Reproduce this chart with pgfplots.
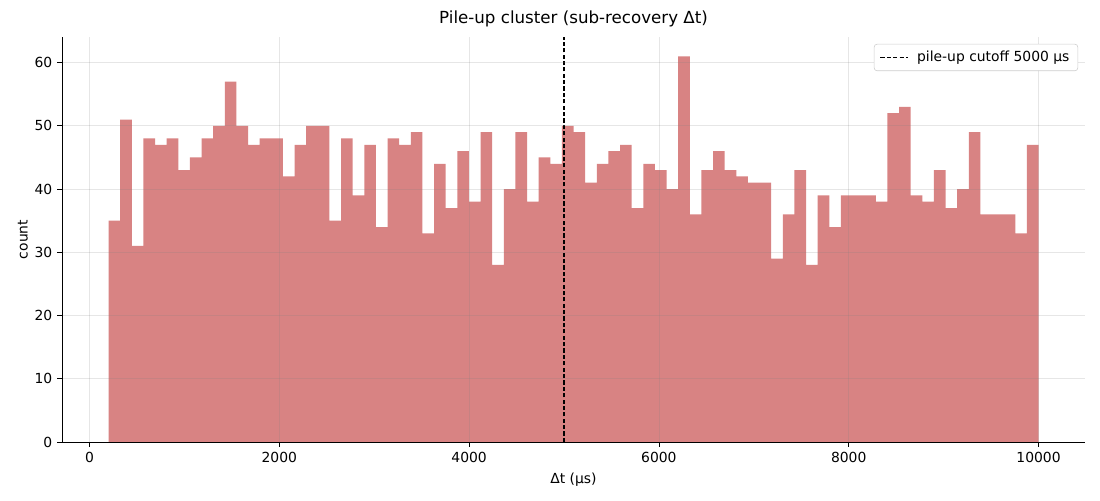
\documentclass[border=0pt]{standalone}
\usepackage{fontspec}
\setmainfont{DejaVu Sans}
\usepackage{pgfplots}
\pgfplotsset{compat=1.18}
\definecolor{barc}{RGB}{216,131,131}
\begin{document}
\begin{tikzpicture}
\path[use as bounding box] (0,0) rectangle (792pt,360pt);
\begin{axis}[
  at={(44.64pt,41.76pt)}, anchor=south west,
  scale only axis, width=736.56pt, height=291.6pt,
  xmin=-290, xmax=10490, ymin=0, ymax=64.05,
  axis x line*=bottom, axis y line*=left,
  axis line style={-, line width=0.6pt},
  tick align=outside, tick style={black, line width=0.6pt},
  major tick length=3.5pt,
  xtick={0,2000,4000,6000,8000,10000},
  ytick={0,10,20,30,40,50,60},
  scaled ticks=false,
  /pgf/number format/1000 sep={},
  /pgf/number format/assume math mode=true,
  ticklabel style={font=\fontsize{10}{12}\selectfont},
  grid=major, grid style={black!50, opacity=0.2, line width=0.58pt},
  axis on top,
  xlabel={Δt (μs)}, ylabel={count},
  label style={font=\fontsize{10}{12}\selectfont},
  xlabel style={yshift=-1pt},
  ylabel style={yshift=-2pt},
  title={Pile-up cluster (sub-recovery Δt)},
  title style={font=\fontsize{12}{14}\selectfont, yshift=-2pt},
  legend style={at={(1,1)}, anchor=north east, xshift=-5pt, yshift=-5pt,
    draw=black!20, rounded corners=2pt, font=\fontsize{10}{12}\selectfont,
    inner xsep=4pt, inner ysep=3pt},
  legend cell align=left,
  legend image code/.code={\draw[#1] (0pt,0pt) -- (20pt,0pt); \path (24pt,0pt);},
]
\addplot[ybar interval, fill=barc, draw=none, forget plot] coordinates {
(200,35) (322.5,51) (445,31) (567.5,48) (690,47) (812.5,48) (935,43) (1057.5,45)
(1180,48) (1302.5,50) (1425,57) (1547.5,50) (1670,47) (1792.5,48) (1915,48) (2037.5,42)
(2160,47) (2282.5,50) (2405,50) (2527.5,35) (2650,48) (2772.5,39) (2895,47) (3017.5,34)
(3140,48) (3262.5,47) (3385,49) (3507.5,33) (3630,44) (3752.5,37) (3875,46) (3997.5,38)
(4120,49) (4242.5,28) (4365,40) (4487.5,49) (4610,38) (4732.5,45) (4855,44) (4977.5,50)
(5100,49) (5222.5,41) (5345,44) (5467.5,46) (5590,47) (5712.5,37) (5835,44) (5957.5,43)
(6080,40) (6202.5,61) (6325,36) (6447.5,43) (6570,46) (6692.5,43) (6815,42) (6937.5,41)
(7060,41) (7182.5,29) (7305,36) (7427.5,43) (7550,28) (7672.5,39) (7795,34) (7917.5,39)
(8040,39) (8162.5,39) (8285,38) (8407.5,52) (8530,53) (8652.5,39) (8775,38) (8897.5,43)
(9020,37) (9142.5,40) (9265,49) (9387.5,36) (9510,36) (9632.5,36) (9755,33) (9877.5,47)
(10000,47)
};
\addplot[black, dashed, line width=0.9pt, dash pattern=on 3pt off 1.6pt] coordinates {(5000,0) (5000,64.05)};
\addlegendentry{pile-up cutoff 5000 μs}
\end{axis}
\end{tikzpicture}
\end{document}
